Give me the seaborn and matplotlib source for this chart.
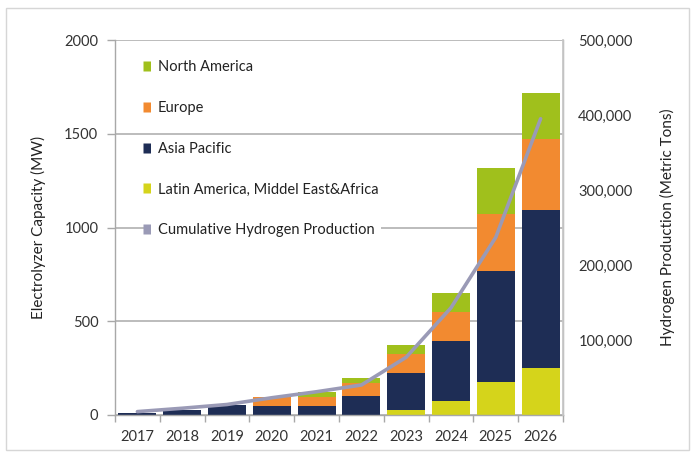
import numpy as np
import pandas as pd
import matplotlib
matplotlib.use("Agg")
import matplotlib.pyplot as plt
import seaborn as sns
from matplotlib.patches import Rectangle
from matplotlib.lines import Line2D
from matplotlib.ticker import FuncFormatter, FixedLocator

years = ["2017", "2018", "2019", "2020", "2021", "2022", "2023", "2024", "2025", "2026"]
latin_mea = [0, 0, 0, 0, 0, 0, 25, 75, 175, 250]
asia_pacific = [13, 27, 52, 48, 48, 100, 198, 322, 595, 845]
europe = [0, 0, 0, 46, 50, 70, 102, 152, 300, 375]
north_america = [0, 0, 0, 0, 25, 30, 50, 100, 250, 250]
h2_production = [4500, 9000, 14000, 23000, 31000, 40000, 77000, 143000, 237000, 395000]

series_names = ["North America", "Europe", "Asia Pacific", "Latin America, Middel East&Africa"]
colors = {"North America": "#A0C01C", "Europe": "#F28A30",
          "Asia Pacific": "#1E2D55", "Latin America, Middel East&Africa": "#D5D41B"}
line_color = "#9A9AB6"

sns.set_theme(style="white")
plt.rcParams["font.family"] = ["Lato", "DejaVu Sans"]

fig = plt.figure(figsize=(6.95, 4.57), dpi=100)
ax = fig.add_axes([115/695, 1-415/457, (563-115)/695, (415-40)/457])

# cumulative stacks (draw tallest first)
stack_order = ["Latin America, Middel East&Africa", "Asia Pacific", "Europe", "North America"]
vals = {"Latin America, Middel East&Africa": latin_mea, "Asia Pacific": asia_pacific,
        "Europe": europe, "North America": north_america}
cum = np.zeros(len(years))
cums = {}
for name in stack_order:
    cum = cum + np.array(vals[name], dtype=float)
    cums[name] = cum.copy()

for name in reversed(stack_order):
    df = pd.DataFrame({"year": years, "v": cums[name]})
    sns.barplot(data=df, x="year", y="v", color=colors[name], width=0.85,
                saturation=1, ax=ax, zorder=2, edgecolor="none", linewidth=0)

ax.set_ylim(0, 2000)
ax.set_xlim(-0.5, 9.5)
ax.set_yticks([0, 500, 1000, 1500, 2000])
ax.set_yticklabels(["0", "500", "1000", "1500", "2000"])
ax.yaxis.grid(True, color="#B0B0B0", linewidth=1.2, zorder=0)
ax.set_axisbelow(True)
ax.set_xlabel("")
ax.set_ylabel("Electrolyzer Capacity (MW)", fontsize=11, color="#222222", labelpad=13)
for s in ["top"]:
    ax.spines[s].set_visible(False)
for s in ["left", "bottom", "right"]:
    ax.spines[s].set_color("#A8A8A8")
    ax.spines[s].set_linewidth(1.0)
ax.tick_params(axis="y", length=6, width=1, color="#A8A8A8", labelsize=10.5, labelcolor="#333333", pad=6, left=True)
ax.tick_params(axis="x", which="major", length=0, labelsize=10.5, labelcolor="#333333", pad=11)
ax.xaxis.set_minor_locator(FixedLocator(np.arange(-0.5, 10, 1)))
ax.tick_params(axis="x", which="minor", length=5, width=1, color="#A8A8A8", bottom=True)

ax2 = ax.twinx()
sns.lineplot(x=np.arange(len(years)), y=h2_production, ax=ax2, color=line_color,
             linewidth=2.6, zorder=5)
ax2.set_ylim(0, 500000)
ax2.set_yticks([100000, 200000, 300000, 400000, 500000])
ax2.yaxis.set_major_formatter(FuncFormatter(lambda v, p: f"{int(v):,}"))
ax2.tick_params(axis="y", length=0, labelsize=10.5, labelcolor="#333333", pad=11)
for lbl in ax2.get_yticklabels():
    lbl.set_y(lbl.get_position()[1])
ax2.set_ylabel("Hydrogen Production (Metric Tons)", fontsize=11, color="#222222", labelpad=20)
ax2.spines["top"].set_visible(False)
ax2.spines["left"].set_visible(False)
ax2.spines["bottom"].set_visible(False)
ax2.spines["right"].set_color("#C8C8C8")
ax2.grid(False)

handles = [Line2D([0], [0], marker="s", linestyle="none", markersize=7,
                  markerfacecolor=colors[n], markeredgecolor="none") for n in series_names]
handles.append(Line2D([0], [0], marker="s", linestyle="none", markersize=7,
                      markerfacecolor=line_color, markeredgecolor="none"))
labels = series_names + ["Cumulative Hydrogen Production"]
leg = ax2.legend(handles, labels, loc="upper left", bbox_to_anchor=(0.045, 0.962),
                 frameon=False, fontsize=10.5, labelspacing=1.84, handletextpad=0.15,
                 handlelength=1.0, borderaxespad=0)
for t in leg.get_texts():
    t.set_color("#222222")
    t.set_bbox(dict(facecolor="white", edgecolor="none", pad=4.5))
leg.set_zorder(10)

fig.patches.append(Rectangle((6/695, 1-450/457), 683/695, 442/457, transform=fig.transFigure,
                             fill=False, edgecolor="#D6D6D6", linewidth=1))

fig.savefig("out.png", dpi=100)
